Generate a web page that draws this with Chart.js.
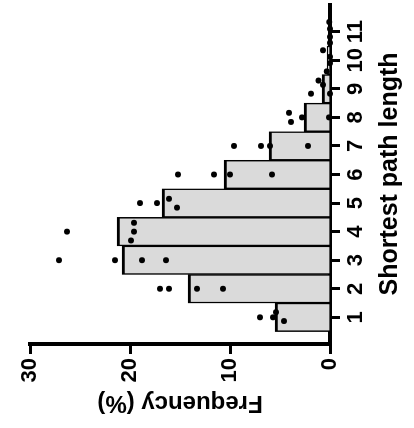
<!DOCTYPE html>
<html>
<head>
<meta charset="utf-8">
<script src="https://cdn.jsdelivr.net/npm/chart.js@4.4.1/dist/chart.umd.min.js"></script>
<style>
  html, body { margin: 0; padding: 0; background: #fff; overflow: hidden; }
  /* chart is drawn upright, then turned a quarter to the left like the figure */
  #wrap {
    position: absolute; left: 0; top: 0;
    width: 428px; height: 414px;
    transform-origin: 0 0;
    transform: translateY(428px) rotate(-90deg);
  }
</style>
</head>
<body>
<div id="wrap"><canvas id="chart" width="428" height="414"></canvas></div>
<script>
// shortest path length categories
const categories = [1, 2, 3, 4, 5, 6, 7, 8, 9, 10, 11];

// mean frequency (%) per path length (bars)
const meanFreq = [5.5, 14.2, 20.8, 21.3, 16.8, 10.6, 6.1, 2.6, 0.8, 0.3, 0];

// individual replicates (%) per path length (dots)
const dotFreq = [
  [7.0, 5.7, 5.4, 4.6],
  [17.0, 16.1, 13.3, 10.7],
  [27.1, 21.5, 18.8, 16.4],
  [26.3, 19.6, 19.6, 19.9],
  [19.0, 17.3, 16.1, 15.3],
  [15.2, 11.6, 10.0, 5.8],
  [9.6, 6.9, 6.0, 2.2],
  [4.1, 3.9, 2.8, 0.1],
  [1.9, 1.15, 0.7, 0],
  [0.7, 0, 0.33, 0],
  [0.07, 0, 0, 0]
];

// horizontal scatter of the replicates around each category (category units)
const dotJitter = [
  [0, 0, 0.18, -0.13],
  [0, 0, 0, 0],
  [0, 0, 0, 0],
  [0, 0.31, 0, -0.31],
  [0, 0, 0.15, -0.16],
  [0, 0, 0, 0],
  [0, 0, 0, 0],
  [0.16, -0.16, 0, 0],
  [-0.17, 0.29, 0.14, -0.17],
  [0.35, 0.12, -0.39, -0.1],
  [0.34, 0.1, -0.18, -0.39]
];

const dots = [];
categories.forEach((c, i) => {
  dotFreq[i].forEach((v, j) => dots.push({ x: c + dotJitter[i][j], y: v }));
});

const fam = "'Liberation Sans', Arial, sans-serif";

new Chart(document.getElementById("chart"), {
  type: "bar",
  data: {
    datasets: [
      {
        type: "scatter",
        data: dots,
        pointRadius: 3,
        pointBackgroundColor: "#000",
        pointBorderWidth: 0,
        clip: false,
        order: 1
      },
      {
        type: "bar",
        data: categories.map((c, i) => ({ x: c, y: meanFreq[i] })),
        backgroundColor: "#dadada",
        borderColor: "#000",
        borderWidth: { top: 3, left: 1.5, right: 1.5, bottom: 0 },
        barPercentage: 1,
        categoryPercentage: 1,
        order: 2
      }
    ]
  },
  options: {
    responsive: false,
    animation: false,
    layout: { padding: { top: 30, right: 0, bottom: 0, left: 0 } },
    plugins: { legend: { display: false }, tooltip: { enabled: false } },
    scales: {
      x: {
        type: "linear",
        min: 0.066,
        max: 11.97,
        offset: false,
        afterBuildTicks: s => { s.ticks = categories.map(v => ({ value: v })); },
        afterFit: s => {
          s.height = 84;
          s.paddingLeft = 0;
          s.paddingRight = 0;
        },
        border: { color: "#000", width: 4 },
        grid: { offset: false, drawOnChartArea: false, tickLength: 10, tickWidth: 3, tickColor: "#000" },
        ticks: {
          color: "#000",
          font: { family: fam, weight: "bold", size: 22 },
          padding: 3,
          maxRotation: 0,
          autoSkip: false
        },
        title: {
          display: true,
          text: "Shortest path length",
          color: "#000",
          font: { family: fam, weight: "bold", size: 25 },
          padding: { top: 0, bottom: 9 }
        }
      },
      y: {
        min: 0,
        max: 30,
        afterFit: s => { s.width = 84; },
        border: { color: "#000", width: 4 },
        grid: { drawOnChartArea: false, tickLength: 10, tickWidth: 3, tickColor: "#000" },
        ticks: {
          stepSize: 10,
          color: "#000",
          font: { family: fam, weight: "bold", size: 22 },
          padding: 4
        },
        title: {
          display: true,
          text: "Frequency (%)",
          color: "#000",
          font: { family: fam, weight: "bold", size: 24 },
          padding: { top: 11, bottom: 0 }
        }
      }
    }
  }
});
</script>
</body>
</html>
